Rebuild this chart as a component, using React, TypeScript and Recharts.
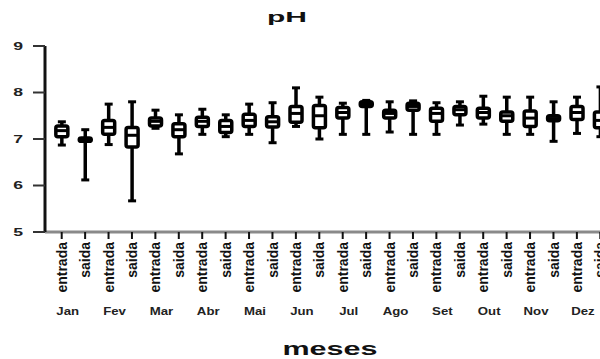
import React from 'react';
import { ComposedChart, Bar, XAxis, YAxis } from 'recharts';

const months = ['Jan', 'Fev', 'Mar', 'Abr', 'Mai', 'Jun', 'Jul', 'Ago', 'Set', 'Out', 'Nov', 'Dez'];
const groups = ['entrada', 'saida'];
const yTicks = [5, 6, 7, 8, 9];

const mins = [6.87, 6.12, 6.88, 5.67, 7.23, 6.68, 7.1, 7.05, 7.1, 6.92, 7.27, 7.0, 7.1, 7.1, 7.15, 7.1, 7.1, 7.3, 7.32, 7.1, 7.1, 6.95, 7.12, 7.05];
const q1s = [7.05, 6.95, 7.1, 6.83, 7.28, 7.05, 7.27, 7.14, 7.27, 7.26, 7.36, 7.24, 7.45, 7.7, 7.45, 7.62, 7.38, 7.52, 7.45, 7.38, 7.27, 7.39, 7.42, 7.24];
const medians = [7.18, 6.99, 7.25, 7.08, 7.38, 7.2, 7.38, 7.27, 7.4, 7.37, 7.55, 7.5, 7.57, 7.75, 7.55, 7.7, 7.55, 7.63, 7.57, 7.5, 7.45, 7.44, 7.57, 7.4];
const q3s = [7.28, 7.02, 7.4, 7.25, 7.45, 7.33, 7.47, 7.4, 7.53, 7.48, 7.7, 7.72, 7.68, 7.8, 7.62, 7.77, 7.66, 7.7, 7.66, 7.58, 7.6, 7.5, 7.7, 7.58];
const maxs = [7.37, 7.2, 7.75, 7.8, 7.62, 7.52, 7.64, 7.52, 7.75, 7.78, 8.1, 7.9, 7.77, 7.83, 7.8, 7.82, 7.78, 7.8, 7.92, 7.9, 7.9, 7.8, 7.9, 8.12];

const data = mins.map((mn, i) => ({
  key: `${months[Math.floor(i / 2)]}|${groups[i % 2]}`,
  month: months[Math.floor(i / 2)],
  group: groups[i % 2],
  min: mn,
  q1: q1s[i],
  med: medians[i],
  q3: q3s[i],
  max: maxs[i],
  range: [mn, maxs[i]],
}));

const FONT = '"Liberation Sans", Arial, sans-serif';

const BoxShape = (props: any) => {
  const { x, y, width, height, payload } = props;
  if (!payload) return null;
  const cx = x + width / 2;
  const { min, max, q1, med, q3 } = payload;
  const py = (v: number) => y + ((max - v) / (max - min)) * height;
  const bw = 12;
  const cw = 8;
  return (
    <g>
      <line x1={cx} x2={cx} y1={py(max)} y2={py(min)} stroke="#000" strokeWidth={3.5} />
      <line x1={cx - cw / 2} x2={cx + cw / 2} y1={py(max)} y2={py(max)} stroke="#000" strokeWidth={3} />
      <line x1={cx - cw / 2} x2={cx + cw / 2} y1={py(min)} y2={py(min)} stroke="#000" strokeWidth={3} />
      <rect x={cx - bw / 2} y={py(q3)} width={bw} height={Math.max(py(q1) - py(q3), 1)} rx={2} fill="#fff" stroke="#000" strokeWidth={3.5} />
      <line x1={cx - bw / 2} x2={cx + bw / 2} y1={py(med)} y2={py(med)} stroke="#000" strokeWidth={3} />
    </g>
  );
};

const XTick = (props: any) => {
  const { x, y, payload } = props;
  const [month, group] = String(payload.value).split('|');
  return (
    <g transform={`translate(${x},${y})`}>
      <text
        transform="rotate(-90)"
        x={-3}
        y={0}
        dy="0.36em"
        textAnchor="end"
        fontSize={14}
        fontWeight="bold"
        fontFamily={FONT}
        fill="#111"
      >
        {group}
      </text>
      {group === 'entrada' && (
        <g transform="translate(6,76) scale(1.2,1)">
          <text x={0} y={0} textAnchor="middle" fontSize={11} fontWeight="bold" fontFamily={FONT} fill="#222">
            {month}
          </text>
        </g>
      )}
    </g>
  );
};

const YTick = (props: any) => {
  const { x, y, payload } = props;
  return (
    <g transform={`translate(${x},${y}) scale(1.6,1)`}>
      <text x={0} y={0} dy="0.36em" textAnchor="end" fontSize={11} fontWeight="bold" fontFamily={FONT} fill="#222">
        {payload.value}
      </text>
    </g>
  );
};

export default function App() {
  return (
    <div style={{ position: 'absolute', left: 0, top: 0, width: 600, height: 359, overflow: 'hidden', background: '#fff' }}>
      <ComposedChart width={620} height={359} data={data} margin={{ top: 46, right: 8, bottom: 7, left: 0 }}>
        <XAxis
          dataKey="key"
          interval={0}
          height={120}
          padding={{ left: 5, right: 0 }}
          axisLine={{ stroke: '#8a8a8a', strokeWidth: 3 }}
          tickLine={{ stroke: '#111', strokeWidth: 2 }}
          tickSize={7}
          tickMargin={0}
          tick={<XTick />}
        />
        <YAxis
          domain={[5, 9]}
          ticks={yTicks}
          width={45}
          axisLine={{ stroke: '#111', strokeWidth: 3 }}
          tickLine={{ stroke: '#333', strokeWidth: 2 }}
          tickSize={12}
          tickMargin={10}
          tick={<YTick />}
        />
        <Bar dataKey="range" shape={BoxShape} isAnimationActive={false} />
      </ComposedChart>
      <svg width={600} height={359} style={{ position: 'absolute', left: 0, top: 0, pointerEvents: 'none' }}>
        <text x={287} y={22} textAnchor="middle" fontSize={15} fontWeight="bold" fontFamily={FONT} textLength={40} lengthAdjust="spacingAndGlyphs" fill="#111">
          pH
        </text>
        <text x={330} y={355} textAnchor="middle" fontSize={19} fontWeight="bold" fontFamily={FONT} textLength={95} lengthAdjust="spacingAndGlyphs" fill="#111">
          meses
        </text>
      </svg>
    </div>
  );
}
